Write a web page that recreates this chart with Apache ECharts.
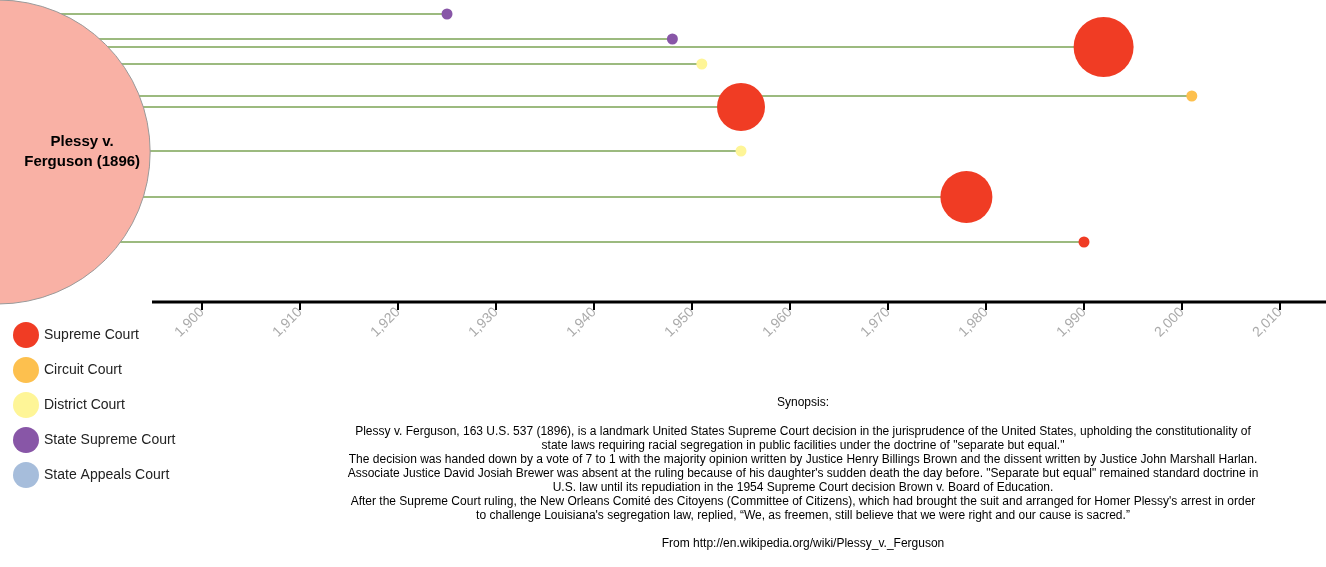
<!DOCTYPE html>
<html><head><meta charset="utf-8">
<script src="https://cdn.jsdelivr.net/npm/echarts@6/dist/echarts.min.js"></script>
<style>html,body{margin:0;padding:0;background:#fff}#c{width:1326px;height:567px}</style>
</head><body><div id="c"></div>
<script>
// decisions citing Plessy v. Ferguson
const years = [1925, 1948, 1992, 1951, 2001, 1955, 1955, 1978, 1990];
const rows = [14, 39, 47, 64, 96, 107, 151, 197, 242];
const courts = ["State Supreme Court", "State Supreme Court", "Supreme Court", "District Court",
  "Circuit Court", "Supreme Court", "District Court", "Supreme Court", "Supreme Court"];
const sizes = [11, 11, 60, 11, 11, 48, 11, 52, 11];
const courtNames = ["Supreme Court", "Circuit Court", "District Court", "State Supreme Court", "State Appeals Court"];
const courtColors = ["#f03c24", "#fdc04e", "#fef597", "#8856a7", "#a6bddb"];
const tickYears = [1900, 1910, 1920, 1930, 1940, 1950, 1960, 1970, 1980, 1990, 2000, 2010];
const mainCase = {name: "Plessy v.\nFerguson (1896)", year: 1879.2, row: 152, size: 304};
const synopsis = [
  "Synopsis:", "",
  "Plessy v. Ferguson, 163 U.S. 537 (1896), is a landmark United States Supreme Court decision in the jurisprudence of the United States, upholding the constitutionality of",
  "state laws requiring racial segregation in public facilities under the doctrine of \"separate but equal.\"",
  "The decision was handed down by a vote of 7 to 1 with the majority opinion written by Justice Henry Billings Brown and the dissent written by Justice John Marshall Harlan.",
  "Associate Justice David Josiah Brewer was absent at the ruling because of his daughter's sudden death the day before. \"Separate but equal\" remained standard doctrine in",
  "U.S. law until its repudiation in the 1954 Supreme Court decision Brown v. Board of Education.",
  "After the Supreme Court ruling, the New Orleans Comité des Citoyens (Committee of Citizens), which had brought the suit and arranged for Homer Plessy's arrest in order",
  "to challenge Louisiana's segregation law, replied, “We, as freemen, still believe that we were right and our cause is sacred.”",
  "", "From http://en.wikipedia.org/wiki/Plessy_v._Ferguson"
];

const chart = echarts.init(document.getElementById("c"));
const xMin = 1900 - 202 / 9.8, xMax = 1900 + 1124 / 9.8, axisStart = 1900 - 50 / 9.8;
const series = [];
years.forEach((y, i) => {
  series.push({type: "line", xAxisIndex: 0, yAxisIndex: 0, symbol: "none", silent: true, z: 1,
    lineStyle: {color: "#9cba7f", width: 2}, data: [[xMin, rows[i]], [y, rows[i]]]});
});
// time axis baseline
series.push({type: "line", xAxisIndex: 0, yAxisIndex: 0, symbol: "none", silent: true, z: 1, clip: false,
  lineStyle: {color: "#000", width: 3}, data: [[axisStart, 302], [xMax, 302]]});
courtNames.forEach((c, k) => {
  series.push({type: "scatter", name: c, xAxisIndex: 0, yAxisIndex: 0, z: 3,
    itemStyle: {color: courtColors[k], opacity: 1},
    data: years.map((y, i) => courts[i] === c ? {value: [y, rows[i]], symbolSize: sizes[i]} : null).filter(d => d)});
});
series.push({type: "scatter", xAxisIndex: 0, yAxisIndex: 0, z: 2, clip: false,
  data: [{value: [mainCase.year, mainCase.row], symbolSize: mainCase.size}],
  itemStyle: {color: "#f9b1a5", borderColor: "#999", borderWidth: 1, opacity: 1},
  label: {show: true, formatter: mainCase.name, color: "#000", fontWeight: "bold", fontSize: 15,
    fontFamily: "Arial", position: "inside", offset: [84, 0], lineHeight: 20}});

chart.setOption({
  animation: false,
  grid: [{left: 0, top: 0, width: 1326, height: 302},
         {left: 104, top: 0, width: 1222, height: 302}],
  xAxis: [{type: "value", gridIndex: 0, min: xMin, max: xMax, show: false},
          {type: "value", gridIndex: 1, min: 1890, max: xMax, splitLine: {show: false},
           axisLine: {show: false},
           axisTick: {customValues: tickYears, length: 8, lineStyle: {color: "#000", width: 2}},
           axisLabel: {customValues: tickYears, rotate: 45, color: "#aaa", fontSize: 14, fontFamily: "Arial", margin: 8}}],
  yAxis: [{type: "value", gridIndex: 0, min: 0, max: 302, inverse: true, show: false},
          {type: "value", gridIndex: 1, min: 0, max: 302, show: false}],
  series: series.concat([{type: "line", xAxisIndex: 1, yAxisIndex: 1, data: []}]),
  legend: {orient: "vertical", left: 8, top: 317, itemWidth: 26, itemHeight: 26, itemGap: 9,
    icon: "circle", data: courtNames, textStyle: {fontSize: 14, fontFamily: "Arial", color: "#222"}},
  graphic: [{type: "text", x: 803, y: 396, style: {text: synopsis.join("\n"), align: "center",
    font: "12px Arial", lineHeight: 14.1, fill: "#000"}}]
});
</script></body></html>
